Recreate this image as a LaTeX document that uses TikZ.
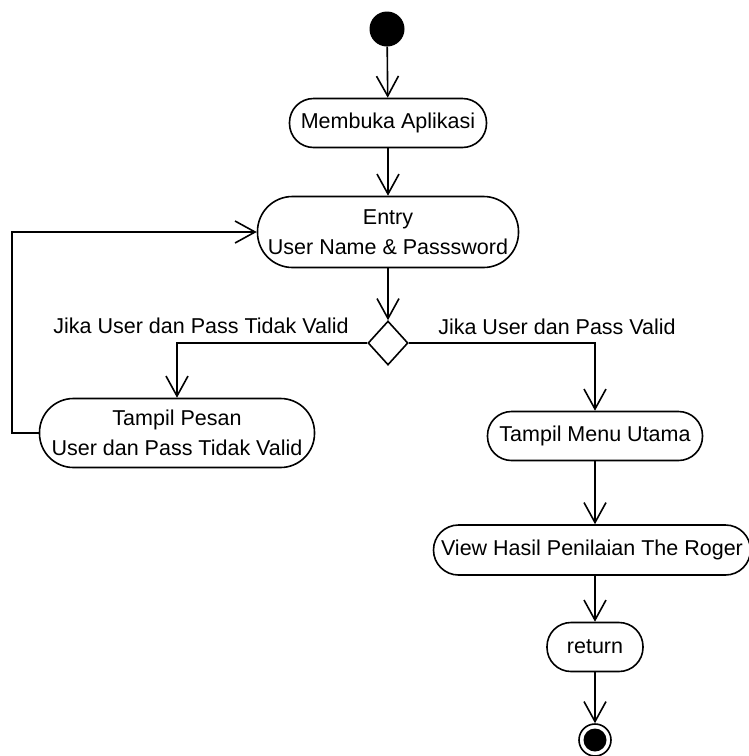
\documentclass[tikz,border=0pt]{standalone}
\usepackage{fontspec}
\setmainfont{Liberation Sans}
\usetikzlibrary{arrows.meta,shapes.geometric}
\begin{document}
\begin{tikzpicture}[x=1pt,y=-1pt,
  every node/.style={font=\fontsize{21.5}{30}\selectfont},
  act/.style={draw,line width=1.6pt,rectangle,inner sep=0pt,align=center,fill=white},
  flow/.style={line width=1.6pt,-{Straight Barb[length=20pt,width=22pt,line width=1.6pt]}},
  lbl/.style={inner sep=0pt}]
\useasboundingbox (0,0) rectangle (748,756);
\node[circle,fill=black,minimum size=35pt,inner sep=0pt] (start) at (387,29) {};
\node[act,minimum width=197pt,minimum height=49pt,rounded corners=24pt] (open) at (388,123) {Membuka Aplikasi};
\node[act,minimum width=261pt,minimum height=71pt,rounded corners=35pt] (entry) at (388,232) {Entry\\User Name \& Passsword};
\node[diamond,draw,line width=1.6pt,minimum width=40pt,minimum height=44pt,inner sep=0pt] (dec) at (388,343) {};
\node[act,minimum width=275pt,minimum height=69pt,rounded corners=34pt] (msg) at (177,433) {Tampil Pesan\\User dan Pass Tidak Valid};
\node[act,minimum width=215pt,minimum height=49pt,rounded corners=24pt] (menu) at (595,436) {Tampil Menu Utama};
\node[act,minimum width=317pt,minimum height=50pt,rounded corners=25pt] (view) at (592,550) {View Hasil Penilaian The Roger};
\node[act,minimum width=96pt,minimum height=49pt,rounded corners=24pt] (ret) at (595,647) {return};
\node[circle,draw,line width=1.6pt,fill=white,minimum size=32pt,inner sep=0pt] (stop) at (595,740) {};
\fill (stop.center) circle (11.5pt);
\node[lbl] (lno) at (201,326) {Jika User dan Pass Tidak Valid};
\node[lbl] (lyes) at (557,327) {Jika User dan Pass Valid};
\draw[flow] (start) -- (open);
\draw[flow] (open) -- (entry);
\draw[flow] (entry) -- (dec.north);
\draw[flow] (dec.west) -| (msg.north);
\draw[flow] (dec.east) -| (menu.north);
\draw[flow] (msg.west) -- ++(-27,0) |- (entry.west);
\draw[flow] (menu) -- (view.north -| menu);
\draw[flow] (view.south -| ret) -- (ret);
\draw[flow] (ret) -- (stop);
\end{tikzpicture}
\end{document}
